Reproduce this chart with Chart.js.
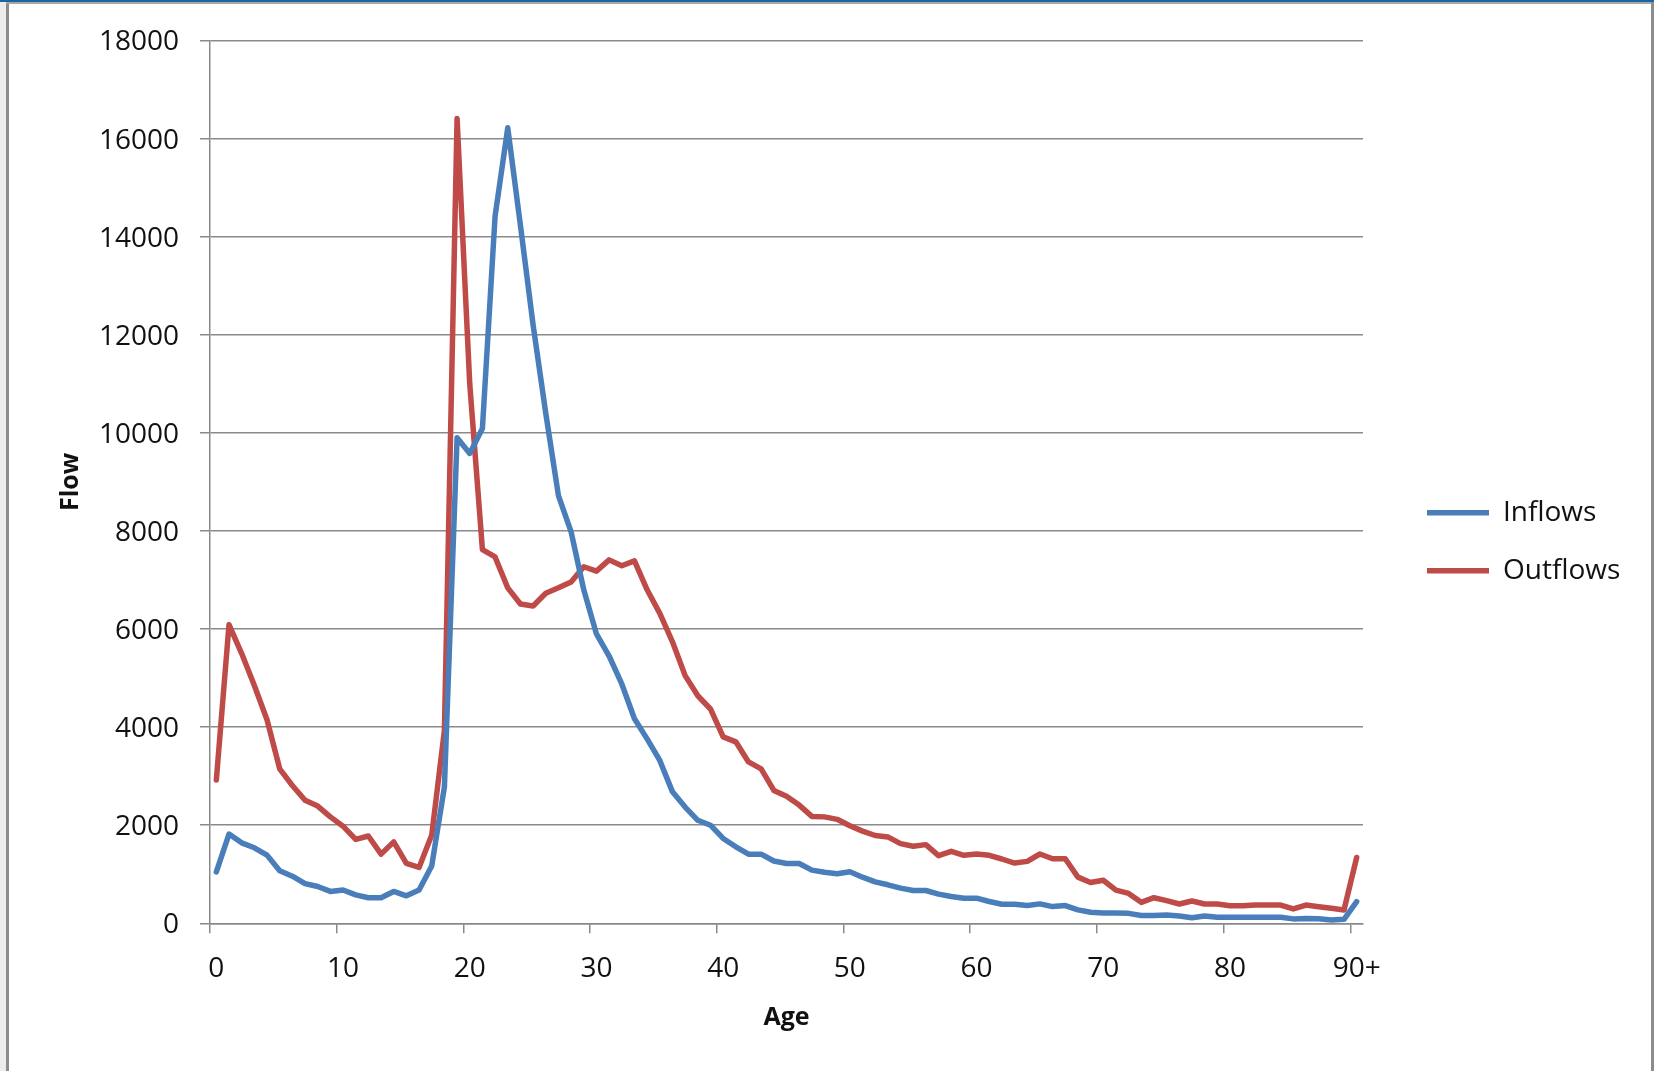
<!DOCTYPE html>
<html>
<head>
<meta charset="utf-8">
<title>Flow by age</title>
<script src="https://cdn.jsdelivr.net/npm/chart.js@4.4.1/dist/chart.umd.min.js"></script>
<style>
    body { margin: 0; background: #fff; overflow: hidden; }
    #wrap { position: relative; width: 1654px; height: 1071px; }
    #chart { position: absolute; left: 0; top: 0; }
    .fr { position: absolute; }
</style>
</head>
<body>
<div id="wrap">
    <canvas id="chart" width="1654" height="1071"></canvas>
    <!-- window frame around the chart -->
    <div class="fr" style="left:0;top:0;width:6px;height:1071px;background:#ececec"></div>
    <div class="fr" style="left:6px;top:2px;width:3px;height:1069px;background:#8c8c8c"></div>
    <div class="fr" style="left:6px;top:2px;width:1648px;height:2px;background:#a8a8a8"></div>
    <div class="fr" style="left:1651px;top:2px;width:3px;height:1069px;background:#8c8c8c"></div>
    <div class="fr" style="left:0;top:0;width:1654px;height:2px;background:#1d63a3"></div>
</div>
<script>
// Age categories (0 .. 89, then 90+)
const ageLabels = ['0', '1', '2', '3', '4', '5', '6', '7', '8', '9',
    '10', '11', '12', '13', '14', '15', '16', '17', '18', '19',
    '20', '21', '22', '23', '24', '25', '26', '27', '28', '29',
    '30', '31', '32', '33', '34', '35', '36', '37', '38', '39',
    '40', '41', '42', '43', '44', '45', '46', '47', '48', '49',
    '50', '51', '52', '53', '54', '55', '56', '57', '58', '59',
    '60', '61', '62', '63', '64', '65', '66', '67', '68', '69',
    '70', '71', '72', '73', '74', '75', '76', '77', '78', '79',
    '80', '81', '82', '83', '84', '85', '86', '87', '88', '89', '90+'];

const inflows = [1050, 1820, 1640, 1540, 1390, 1070, 960, 810, 750, 650,
    680, 580, 520, 520, 650, 560, 680, 1170, 2780, 9900,
    9580, 10090, 14420, 16220, 14230, 12200, 10400, 8720, 7980, 6800,
    5900, 5450, 4880, 4170, 3760, 3320, 2680, 2370, 2100, 2000,
    1730, 1560, 1410, 1410, 1270, 1220, 1220, 1085, 1040, 1010,
    1050, 940, 845, 785, 717, 669, 669, 594, 546, 512,
    512, 444, 389, 389, 362, 396, 341, 362, 273, 225,
    210, 210, 203, 160, 160, 170, 150, 115, 150, 122,
    122, 122, 122, 122, 122, 90, 100, 95, 68, 81, 441];

const outflows = [2920, 6090, 5500, 4850, 4150, 3150, 2810, 2510, 2390, 2170,
    1980, 1710, 1780, 1410, 1660, 1220, 1140, 1800, 3930, 16410,
    11000, 7620, 7470, 6840, 6510, 6470, 6730, 6840, 6960, 7270,
    7180, 7410, 7290, 7390, 6800, 6320, 5740, 5050, 4640, 4370,
    3800, 3700, 3290, 3150, 2710, 2590, 2410, 2180, 2170, 2120,
    1990, 1880, 1790, 1761, 1625, 1570, 1604, 1379, 1468, 1386,
    1413, 1386, 1311, 1229, 1263, 1413, 1317, 1317, 942, 833,
    878, 675, 610, 427, 522, 461, 393, 454, 393, 393,
    359, 359, 373, 373, 373, 292, 373, 339, 305, 271, 1342];

const yTicks = { min: 0, max: 18000, step: 2000 };

const gridGray = '#8a8a8a';
const textFont = "'Open Sans', sans-serif";

// move the legend a bit further from the plot, like the original
const legendNudge = {
    id: 'legendNudge',
    afterLayout(chart) {
        const lg = chart.legend;
        lg.left += 34;
        lg.right = chart.width;
        lg.top -= 14;
        lg.bottom -= 14;
    }
};

const ctx = document.getElementById('chart').getContext('2d');

new Chart(ctx, {
    type: 'line',
    data: {
        labels: ageLabels,
        datasets: [{
            label: 'Inflows',
            data: inflows,
            borderColor: '#4a7ebb',
            backgroundColor: '#4a7ebb',
            borderWidth: 5.5,
            pointRadius: 0,
            tension: 0,
            borderJoinStyle: 'round',
            borderCapStyle: 'round'
        }, {
            label: 'Outflows',
            data: outflows,
            borderColor: '#be4b48',
            backgroundColor: '#be4b48',
            borderWidth: 5.5,
            pointRadius: 0,
            tension: 0,
            borderJoinStyle: 'round',
            borderCapStyle: 'round'
        }]
    },
    options: {
        responsive: false,
        animation: false,
        layout: {
            padding: { left: 0, top: 40.5, right: 91, bottom: 0 }
        },
        plugins: {
            tooltip: { enabled: false },
            legend: {
                position: 'right',
                maxWidth: 200,
                labels: {
                    usePointStyle: true,
                    pointStyle: 'line',
                    pointStyleWidth: 62,
                    boxHeight: 5,
                    padding: 30,
                    color: '#111',
                    font: { family: textFont, size: 28 }
                }
            }
        },
        scales: {
            x: {
                type: 'category',
                offset: true,
                afterFit(scale) { scale.height = 147.7; },
                grid: {
                    offset: true,
                    drawOnChartArea: false,
                    drawTicks: true,
                    tickLength: 10,
                    lineWidth: 1.5,
                    color: (c) => c.index % 10 === 0 ? gridGray : 'rgba(0,0,0,0)'
                },
                border: { color: gridGray, width: 1.5 },
                ticks: {
                    autoSkip: false,
                    maxRotation: 0,
                    padding: 19,
                    color: '#111',
                    font: { family: textFont, size: 28 },
                    callback: (value, index) => index % 10 === 0 ? ageLabels[index] : ''
                },
                title: {
                    display: true,
                    text: 'Age',
                    color: '#111',
                    padding: { top: 0, bottom: 38 },
                    font: { family: textFont, size: 25, weight: 'bold' }
                }
            },
            y: {
                min: yTicks.min,
                max: yTicks.max,
                afterFit(scale) { scale.width = 210; },
                grid: {
                    color: gridGray,
                    lineWidth: 1.5,
                    drawTicks: true,
                    tickLength: 10
                },
                border: { color: gridGray, width: 1.5 },
                ticks: {
                    stepSize: yTicks.step,
                    padding: 21,
                    labelOffset: 2,
                    color: '#111',
                    font: { family: textFont, size: 28 },
                    callback: (value) => String(value)
                },
                title: {
                    display: true,
                    text: 'Flow',
                    color: '#111',
                    padding: { top: 56, bottom: 0 },
                    font: { family: textFont, size: 25, weight: 'bold' }
                }
            }
        }
    },
    plugins: [legendNudge]
});
</script>
</body>
</html>
